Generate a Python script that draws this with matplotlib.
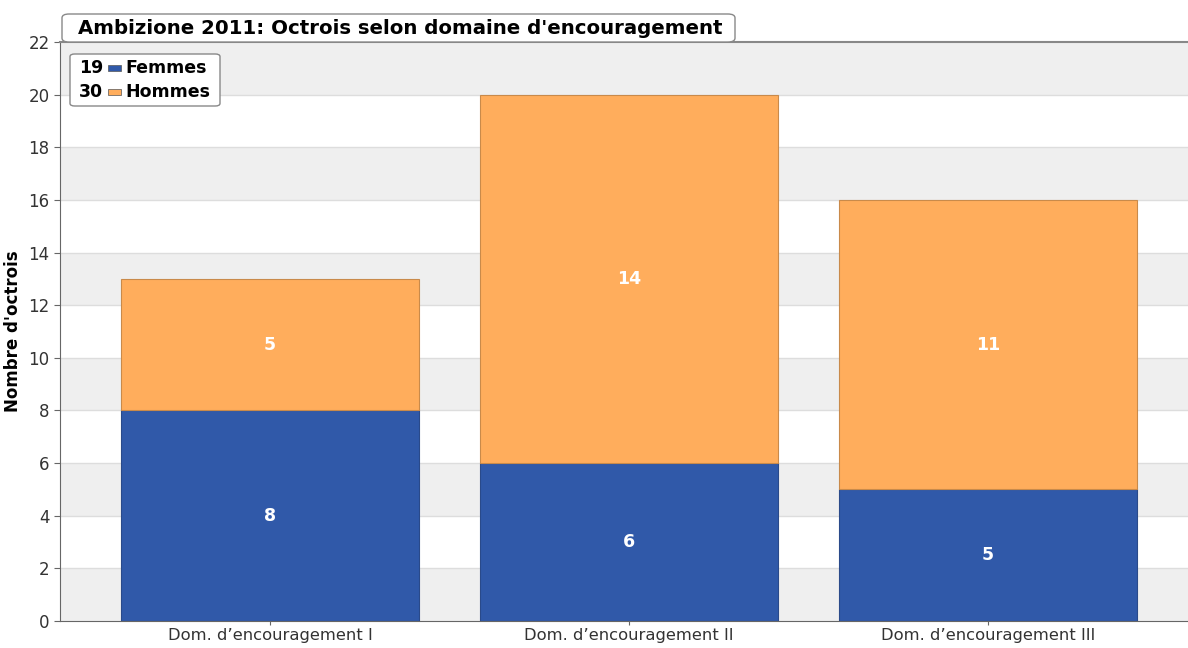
import numpy as np
import matplotlib.pyplot as plt
from matplotlib.patches import FancyBboxPatch

# data
categories = ["Dom. d\u2019encouragement I", "Dom. d\u2019encouragement II", "Dom. d\u2019encouragement III"]
femmes = [8, 6, 5]
hommes = [5, 14, 11]
title = "Ambizione 2011: Octrois selon domaine d'encouragement"

blue = "#3059a9"
orange = "#ffad5c"

fig = plt.figure(figsize=(11.88, 6.48), dpi=100)
ax = fig.add_axes([60/1188, 1 - 621/648, 1128/1188, (621-42)/648])

x = np.arange(len(categories))
w = 0.83

# alternating bands + grid
for y0 in range(0, 22, 4):
    ax.axhspan(y0, y0 + 2, color="#efefef", zorder=0, lw=0)
for y in range(2, 22, 2):
    ax.axhline(y, color="#dddddd", lw=1, zorder=0.5)

ax.bar(x, femmes, w, color=blue, edgecolor="#2a4a8a", lw=0.8, zorder=2)
ax.bar(x, hommes, w, bottom=femmes, color=orange, edgecolor="#c98a4a", lw=0.8, zorder=2)

for i in range(len(x)):
    ax.text(x[i], femmes[i] / 2, str(femmes[i]), color="white", fontsize=12.5,
            fontweight="bold", ha="center", va="center", zorder=3)
    ax.text(x[i], femmes[i] + hommes[i] / 2, str(hommes[i]), color="white", fontsize=12.5,
            fontweight="bold", ha="center", va="center", zorder=3)

ax.set_xlim(-0.585, 2.557)
ax.set_ylim(0, 22)
ax.set_yticks(range(0, 23, 2))
ax.set_xticks(x)
ax.set_xticklabels(categories, fontsize=11.8, color="#333333")
ax.tick_params(axis="y", labelsize=12, labelcolor="#333333", length=4, color="#666666")
ax.tick_params(axis="x", length=3, color="#666666", pad=2)
ax.spines["right"].set_visible(False)
ax.spines["top"].set_color("#888888")
ax.spines["top"].set_linewidth(1.5)
ax.spines["left"].set_color("#666666")
ax.spines["bottom"].set_color("#666666")
ax.set_ylabel("Nombre d'octrois", fontsize=12, fontweight="bold")
ax.yaxis.set_label_coords(-38/1128, 0.5)

# title tab
fig.patches.append(FancyBboxPatch((62/1188, 1 - 42/648), (735-62)/1188, 28/648,
                                  boxstyle="round,pad=0,rounding_size=0.006",
                                  transform=fig.transFigure, facecolor="white",
                                  edgecolor="#888888", lw=1, zorder=5))
fig.text(78/1188, 1 - 28/648, title, fontsize=14.2, fontweight="bold", va="center", zorder=6)

# legend box
fig.patches.append(FancyBboxPatch((70/1188, 1 - 106/648), 150/1188, 52/648,
                                  boxstyle="round,pad=0,rounding_size=0.004",
                                  transform=fig.transFigure, facecolor="white",
                                  edgecolor="#888888", lw=1, zorder=5))
for j, (n, lab, c) in enumerate([(sum(femmes), "Femmes", blue), (sum(hommes), "Hommes", orange)]):
    yy = 1 - (68 + j * 24) / 648
    fig.text(79/1188, yy, str(n), fontsize=12.5, fontweight="bold", va="center", zorder=6)
    fig.patches.append(plt.Rectangle((108/1188, yy - 3/648), 13/1188, 6/648,
                                     transform=fig.transFigure, facecolor=c,
                                     edgecolor="#555555", lw=0.5, zorder=6))
    fig.text(125/1188, yy, lab, fontsize=12.5, fontweight="bold", va="center", zorder=6)

fig.savefig("out.png", dpi=100)
